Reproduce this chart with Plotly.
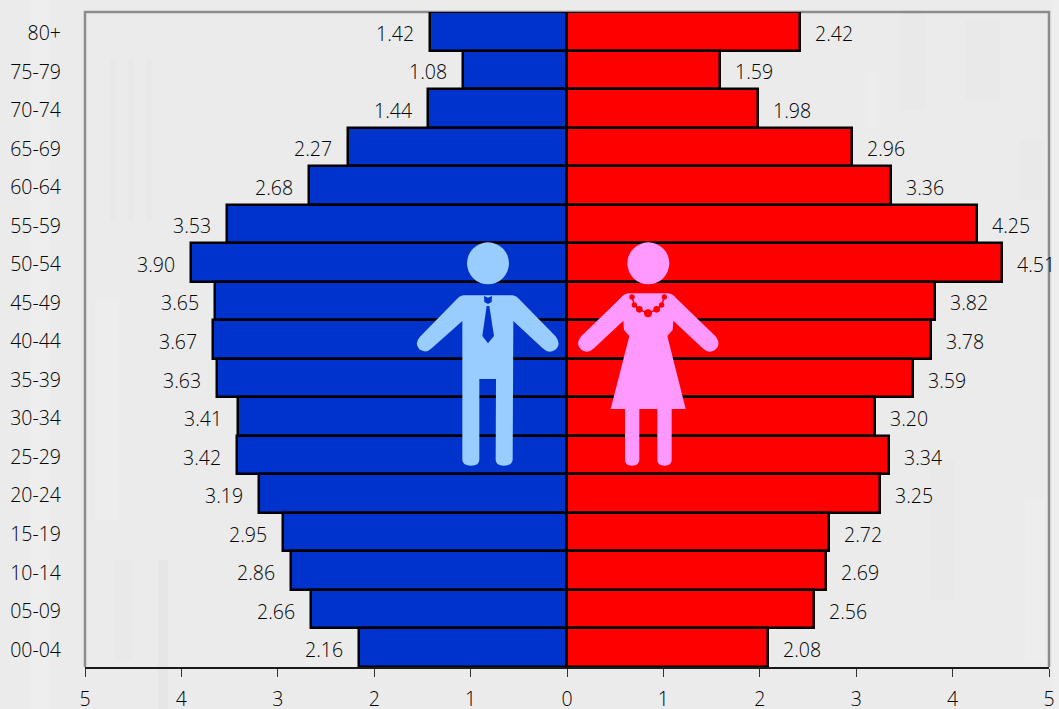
import re
import plotly.graph_objects as go

# Population share by five-year age group (per cent), oldest group first
age_groups = ["80+", "75-79", "70-74", "65-69", "60-64", "55-59", "50-54", "45-49", "40-44",
              "35-39", "30-34", "25-29", "20-24", "15-19", "10-14", "05-09", "00-04"]
male = [1.42, 1.08, 1.44, 2.27, 2.68, 3.53, 3.90, 3.65, 3.67,
        3.63, 3.41, 3.42, 3.19, 2.95, 2.86, 2.66, 2.16]
female = [2.42, 1.59, 1.98, 2.96, 3.36, 4.25, 4.51, 3.82, 3.78,
          3.59, 3.20, 3.34, 3.25, 2.72, 2.69, 2.56, 2.08]
axis_ticks = [-5, -4, -3, -2, -1, 0, 1, 2, 3, 4, 5]

WIDTH, HEIGHT = 1059, 709
LEFT, RIGHT, TOP, BOTTOM = 85, 1049, 12, 667
TEXT_FONT = dict(family="Open Sans", size=19.5, color="#000000", weight=300)
BLUE = "#0033cc"
RED = "#ff0000"
MAN = "#99ccff"
WOMAN = "#ff99ff"
FRAME = "#8c8c8c"


def to_paper(x, y):
    return (x - LEFT) / (RIGHT - LEFT), (BOTTOM - y) / (BOTTOM - TOP)


def icon_path(d, ox=400, oy=230, scale=1 / 3):
    """Convert an outline drawn on a 3x grid into paper coordinates."""
    tokens = re.findall(r"[MLQZ]|-?\d+\.?\d*", d)
    out, i = [], 0
    while i < len(tokens):
        if tokens[i] in "MLQZ":
            out.append(tokens[i])
            i += 1
        else:
            fx, fy = to_paper(ox + float(tokens[i]) * scale, oy + float(tokens[i + 1]) * scale)
            out.append(f"{fx:.5f} {fy:.5f}")
            i += 2
    return " ".join(out)


def icon_circle(cx, cy, r, color):
    x0, y0 = to_paper(400 + (cx - r) / 3, 230 + (cy + r) / 3)
    x1, y1 = to_paper(400 + (cx + r) / 3, 230 + (cy - r) / 3)
    return dict(type="circle", xref="paper", yref="paper", x0=x0, y0=y0, x1=x1, y1=y1,
                fillcolor=color, line_width=0, layer="above")


def icon_shape(d, color):
    return dict(type="path", xref="paper", yref="paper", path=icon_path(d),
                fillcolor=color, line_width=0, layer="above")


man_body = ("M 190 196 L 338 196 Q 350 198 358 208 L 468 320 Q 485 345 465 360 Q 445 372 428 355 "
            "L 340 273 L 338 690 Q 335 707 312 707 Q 287 707 287 690 L 288 447 L 238 447 L 238 690 "
            "Q 238 707 213 707 Q 188 707 187 690 L 187 273 L 95 355 Q 78 372 58 358 Q 42 340 60 320 "
            "L 170 208 Q 178 198 190 196 Z")
man_tie = "M 260 228 L 268 228 L 282 318 L 264 340 L 247 318 Z"
man_collar = "M 252 198 L 264 203 L 276 198 L 275 216 L 264 222 L 253 216 Z"
woman_body = ("M 685 190 L 805 190 Q 818 192 828 204 L 948 320 Q 965 345 945 360 Q 925 372 908 355 "
              "L 820 272 L 818 300 L 802 318 L 857 537 L 815 537 L 815 690 Q 815 707 794 707 "
              "Q 772 707 772 690 L 772 537 L 718 537 L 718 690 Q 718 707 696 707 Q 675 707 675 690 "
              "L 675 537 L 632 537 L 688 318 L 672 300 L 670 272 L 582 355 Q 565 372 545 360 "
              "Q 525 345 542 320 L 662 204 Q 672 192 685 190 Z")
necklace_beads = [(696, 201, 8), (703, 225, 8), (718, 238, 10), (744, 250, 12),
                  (770, 238, 10), (785, 225, 8), (793, 201, 8)]
necklace_chain = "M 696 201 L 703 225 L 718 238 L 744 250 L 770 238 L 785 225 L 793 201"

# Faint vertical streaks of the paper texture: x0, x1, y0, y1, shade
paper_streaks = [
    (30, 50, 0, 709, "rgba(255,255,255,0.16)"), (158, 168, 560, 709, "rgba(0,0,0,0.018)"),
    (110, 116, 60, 220, "rgba(0,0,0,0.010)"), (128, 134, 60, 220, "rgba(0,0,0,0.010)"),
    (146, 152, 60, 220, "rgba(0,0,0,0.010)"), (868, 876, 70, 130, "rgba(255,255,255,0.14)"),
    (900, 925, 10, 110, "rgba(0,0,0,0.007)"), (965, 1000, 20, 100, "rgba(0,0,0,0.009)"),
    (1020, 1045, 140, 200, "rgba(0,0,0,0.006)"), (1025, 1045, 500, 660, "rgba(255,255,255,0.12)"),
    (930, 955, 460, 600, "rgba(0,0,0,0.006)"), (1052, 1059, 0, 709, "rgba(255,255,255,0.16)"),
    (95, 118, 300, 520, "rgba(255,255,255,0.10)"), (115, 132, 560, 660, "rgba(0,0,0,0.006)"),
]

shapes = [dict(type="rect", xref="paper", yref="paper",
               x0=to_paper(x0, 0)[0], x1=to_paper(x1, 0)[0],
               y0=to_paper(0, y1)[1], y1=to_paper(0, y0)[1],
               fillcolor=shade, line_width=0, layer="below")
          for x0, x1, y0, y1, shade in paper_streaks]

# Grey frame on the top and both sides of the plotting area
shapes.append(dict(type="path", xref="paper", yref="paper", path="M 0 0 L 0 1 L 1 1 L 1 0",
                   line=dict(color=FRAME, width=2.5), layer="below"))

shapes += [
    icon_shape(man_body, MAN),
    icon_shape(man_tie, BLUE),
    icon_shape(man_collar, BLUE),
    icon_circle(264, 100, 63, MAN),
    icon_shape(woman_body, WOMAN),
    icon_circle(745, 100, 63, WOMAN),
    dict(type="path", xref="paper", yref="paper", path=icon_path(necklace_chain),
         line=dict(color=RED, width=1.5), layer="above"),
]
shapes += [icon_circle(cx, cy, r, RED) for cx, cy, r in necklace_beads]

fig = go.Figure()
outline = dict(color="#000000", width=2.5)
fig.add_bar(y=age_groups, x=[-v for v in male], orientation="h",
            marker=dict(color=BLUE, line=outline), name="Male")
fig.add_bar(y=age_groups, x=female, orientation="h",
            marker=dict(color=RED, line=outline), name="Female")

annotations = []
for group, m, f in zip(age_groups, male, female):
    annotations.append(dict(x=-m, y=group, text=f"{m:.2f}", xanchor="right", xshift=-14, yshift=-2,
                            showarrow=False, font=TEXT_FONT))
    annotations.append(dict(x=f, y=group, text=f"{f:.2f}", xanchor="left", xshift=13, yshift=-2,
                            showarrow=False, font=TEXT_FONT))

fig.update_layout(
    width=WIDTH, height=HEIGHT, autosize=False,
    margin=dict(l=LEFT, r=WIDTH - RIGHT, t=TOP, b=HEIGHT - BOTTOM, pad=0),
    paper_bgcolor="#ebebeb", plot_bgcolor="rgba(0,0,0,0)",
    barmode="relative", bargap=0, showlegend=False,
    shapes=shapes, annotations=annotations,
    font=TEXT_FONT,
    xaxis=dict(range=[-5, 5], tickvals=axis_ticks, ticktext=[str(abs(t)) for t in axis_ticks],
               showgrid=False, zeroline=False, showline=True, linecolor="#1a1a1a", linewidth=2,
               ticks="outside", ticklen=8, tickwidth=1, tickcolor="#333333",
               ticklabelstandoff=6, automargin=False),
    yaxis=dict(type="category", categoryorder="array", categoryarray=age_groups[::-1],
               range=[-0.5, 16.5], showgrid=False, zeroline=False, showline=False, ticks="",
               ticklabelstandoff=23, ticklabelshift=2, automargin=False),
)
fig.write_html("out.html")
